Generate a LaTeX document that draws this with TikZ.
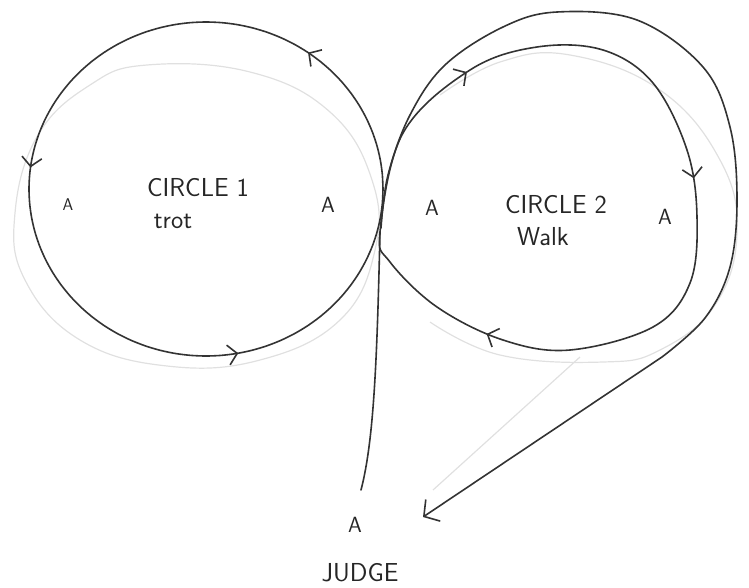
\documentclass[tikz,border=0pt]{standalone}
\usepackage{tikz}
\usetikzlibrary{arrows.meta,decorations.markings}
\tikzset{
  barb/.tip={Straight Barb[length=9pt,width=20pt]},
  ink/.style={draw=black!80, line width=1.6pt, line cap=round, line join=round},
  pencil/.style={draw=black!12, line width=1.2pt},
  three tips/.style n args={3}{
    postaction={decorate},
    decoration={markings,
      mark=at position #1 with {\arrow{barb}},
      mark=at position #2 with {\arrow{barb}},
      mark=at position #3 with {\arrow{barb}}}
  },
  lbl/.style={font=\sffamily\fontsize{26}{30}\selectfont, text=black!85, inner sep=1pt},
  mark A/.style={font=\sffamily\fontsize{22}{26}\selectfont, text=black!85, inner sep=1pt}
}

\begin{document}
\begin{tikzpicture}[x=1pt, y=-1pt]
  \useasboundingbox (0,0) rectangle (749,587);

    % pencil under-drawing
    \draw[pencil] plot[smooth cycle, tension=0.7] coordinates {(147,65) (250,72) (330,112) (372,180) (375,250) (340,320) (260,360) (167,366) (80,340) (25,280) (15,213) (38,135) (90,85)};
    \draw[pencil] plot[smooth, tension=0.7] coordinates {(440,95) (500,62) (570,55) (660,90) (720,160) (737,233) (715,305) (660,350) (603,362) (500,355) (430,322)};
    \draw[pencil] (580,357) -- (433,490);

    \coordinate (cross) at (380,232);
    \coordinate (jtop) at (361,490);
    \coordinate (turn) at (423,517);

    % circle 1
    \draw[ink, three tips={0.15}{0.48}{0.78}] plot[domain=0:-360, samples=73, smooth] ({206+177*cos(\x)}, {189+167*sin(\x)});

    % circle 2
    \draw[ink, three tips={0.09}{0.40}{0.74}] plot[smooth cycle, tension=0.6] coordinates {(cross) (403,133) (470,70) (537,47) (603,50) (653,83) (687,150) (697,217) (690,283) (653,327) (570,350) (503,340) (437,307) (390,262)};

    % second time round and away
    \draw[ink, -{Straight Barb[length=11pt,width=26pt]}] plot[smooth, tension=0.6] coordinates {(381,228) (388,175) (410,115) (445,65) (503,27) (557,12) (637,20) (703,67) (730,127) (737,200) (730,267) (705,318) (662,357)} -- (turn);

    % from the judge
    \draw[ink] (cross) .. controls (377,360) and (374,440) .. (jtop);

    \node[lbl] (c1) at (198,188) {CIRCLE 1};
    \node[lbl] (trot) at (173,221) {trot};
    \node[lbl] (c2) at (556,205) {CIRCLE 2};
    \node[lbl] (walk) at (543,237) {Walk};

    \node[mark A, font=\sffamily\fontsize{17}{20}\selectfont] (a1) at (68,205) {A};
    \node[mark A] (a2) at (328,205) {A};
    \node[mark A] (a3) at (432,208) {A};
    \node[mark A] (a4) at (665,217) {A};
    \node[mark A] (judgeA) at (355,525) {A};
    \node[lbl] (judge) at (360,573) {JUDGE};
\end{tikzpicture}
\end{document}
